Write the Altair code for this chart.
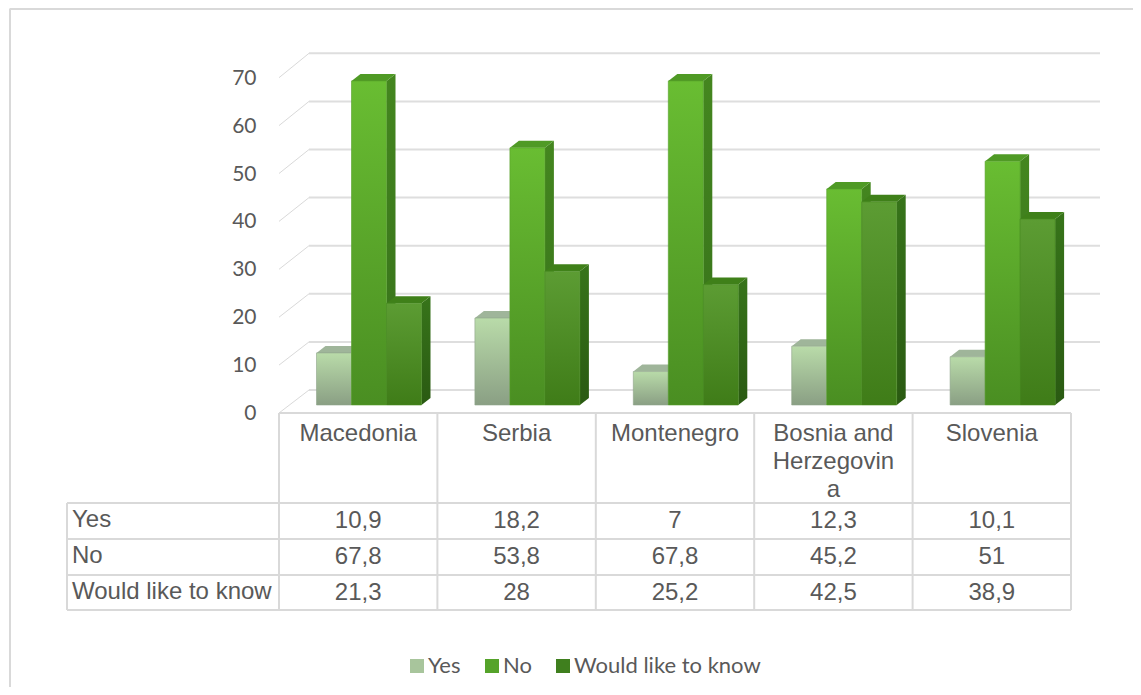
import altair as alt
import pandas as pd

categories = ["Macedonia", "Serbia", "Montenegro", "Bosnia and\nHerzegovin\na", "Slovenia"]
series = ["Yes", "No", "Would like to know"]
yes_values = [10.9, 18.2, 7, 12.3, 10.1]
no_values = [67.8, 53.8, 67.8, 45.2, 51]
know_values = [21.3, 28, 25.2, 42.5, 38.9]
tick_values = [0, 10, 20, 30, 40, 50, 60, 70]

# layout: column width in px, px per value unit, and where the plot sits on the page
COL = 158.4
X0 = 279.0
UNIT = 4.78
BASE = 405.0
W, H = 1125, 679
TEXT = "#595959"
LINE = "#d9d9d9"


def ux(px):
    return (px - X0) / COL


def vy(py):
    return (BASE - py) / UNIT


xs = alt.Scale(domain=[ux(8), ux(8 + W)], nice=False, zero=False)
ys = alt.Scale(domain=[vy(8 + H), vy(8)], nice=False, zero=False)
X = alt.X("x:Q", scale=xs, axis=None)
Y = alt.Y("y:Q", scale=ys, title=None, axis=alt.Axis(
    values=tick_values, orient="left", offset=-248, grid=False, domain=False, ticks=False,
    labelPadding=0, labelOffset=8, labelFont="Lato", labelFontSize=21, labelColor=TEXT,
    labelAlign="right", labelBaseline="middle", labelFlush=False, labelOverlap=False))


def grad(top, bottom):
    return {"gradient": "linear", "x1": 0, "y1": 0, "x2": 0, "y2": 1,
            "stops": [{"offset": 0, "color": top}, {"offset": 1, "color": bottom}]}


styles = {
    "Yes": dict(front=grad("#b9dba9", "#8a9f84"), side=grad("#98ad92", "#76896f"), top="#9fb59a", stroke="#8fa58a"),
    "No": dict(front=grad("#69bd32", "#4a8e22"), side=grad("#44861f", "#36701a"), top="#4f9a25", stroke="#569f2a"),
    "Would like to know": dict(front=grad("#5c9c33", "#3f7c18"), side=grad("#37741a", "#2a5a12"), top="#3f8019", stroke="#468a20"),
}
swatches = ["#a8c59c", "#55a32a", "#3f7f1e"]

BAR = 35.0 / COL
START = (316.5 - X0) / COL
DX = 9.0 / COL
DY = 7.0 / UNIT

layers = []

# frame of the picture
frame = pd.DataFrame({"x": [ux(10), ux(10)], "y": [vy(8.5), vy(8 + H)]})
layers.append(alt.Chart(frame).mark_line(color=LINE, strokeWidth=2).encode(x=X, y=Y))
frame_top = pd.DataFrame({"x": [ux(10)], "x2": [ux(8 + W)], "y": [vy(9)]})
layers.append(alt.Chart(frame_top).mark_rule(color=LINE, strokeWidth=2).encode(x=X, x2="x2:Q", y=Y))

# back wall grid and the slanted lines down to the front edge
walls = pd.DataFrame([
    {"x": ux(309), "x2": ux(1100), "y": vy(390 - 48.1 * i), "y2": vy(390 - 48.1 * i)}
    for i, _ in enumerate(tick_values)
])
layers.append(alt.Chart(walls).mark_rule(color="#dedede", strokeWidth=2).encode(x=X, x2="x2:Q", y=Y, y2="y2:Q"))
slants = pd.DataFrame([
    {"x": ux(279), "x2": ux(309), "y": vy(413 - 47.9 * i), "y2": vy(390 - 48.1 * i)}
    for i, _ in enumerate(tick_values)
])
layers.append(alt.Chart(slants).mark_rule(color=LINE, strokeWidth=1).encode(x=X, x2="x2:Q", y=Y, y2="y2:Q"))

# legend source, hidden behind the bar fronts
legend_rows = []
for s_i, (name, vals) in enumerate(zip(series, [yes_values, no_values, know_values])):
    for c_i, v in enumerate(vals):
        legend_rows.append({"x": c_i + START + (s_i + 0.5) * BAR, "y": v / 2, "series": name})
layers.append(
    alt.Chart(pd.DataFrame(legend_rows)).mark_square(size=60, filled=True, opacity=1).encode(
        x=X, y=Y,
        color=alt.Color("series:N", scale=alt.Scale(domain=series, range=swatches), legend=alt.Legend(
            orient="none", legendX=406 - 8, legendY=655 - 8, direction="horizontal", title=None,
            symbolType="square", symbolSize=196, labelFont="Lato", labelFontSize=22, labelColor=TEXT,
            columnPadding=20, gridAlign="none", labelOffset=0, symbolStrokeWidth=0, labelLimit=300)),
    )
)

# 3D bars, painted left to right within each series
for s_i, (name, vals) in enumerate(zip(series, [yes_values, no_values, know_values])):
    st = styles[name]
    front, side, top = [], [], []
    for c_i, v in enumerate(vals):
        x0 = c_i + START + s_i * BAR
        x1 = x0 + BAR
        front.append({"x": x0, "x2": x1, "y": v, "y2": 0})
        side += [
            {"id": c_i, "x": x1, "y": v, "y2": 0},
            {"id": c_i, "x": x1 + DX, "y": v + DY, "y2": DY},
        ]
        top += [
            {"id": c_i, "x": x0, "y": v, "y2": v},
            {"id": c_i, "x": x0 + DX, "y": v + DY, "y2": v},
            {"id": c_i, "x": x1, "y": v + DY, "y2": v},
            {"id": c_i, "x": x1 + DX, "y": v + DY, "y2": v + DY},
        ]
    layers.append(alt.Chart(pd.DataFrame(side)).mark_area(color=st["side"]).encode(x=X, y=Y, y2="y2:Q", detail="id:N"))
    layers.append(alt.Chart(pd.DataFrame(top)).mark_area(color=st["top"]).encode(x=X, y=Y, y2="y2:Q", detail="id:N"))
    layers.append(
        alt.Chart(pd.DataFrame(front)).mark_rect(color=st["front"], stroke=st["stroke"], strokeWidth=0.6).encode(
            x=X, x2="x2:Q", y=Y, y2="y2:Q")
    )

# data table grid
h_rules = pd.DataFrame(
    [{"x": ux(279), "x2": ux(1071), "y": vy(413)}]
    + [{"x": ux(67), "x2": ux(1071), "y": vy(py)} for py in (503, 539, 575, 610)]
)
layers.append(alt.Chart(h_rules).mark_rule(color=LINE, strokeWidth=2).encode(x=X, x2="x2:Q", y=Y))
v_rules = pd.DataFrame(
    [{"x": ux(67), "y": vy(503), "y2": vy(610)}]
    + [{"x": float(i), "y": vy(413), "y2": vy(610)} for i in range(len(categories) + 1)]
)
layers.append(alt.Chart(v_rules).mark_rule(color=LINE, strokeWidth=2).encode(x=X, y=Y, y2="y2:Q"))

font = dict(font="Liberation Sans", fontSize=24, color=TEXT)

# table text
cat_df = pd.DataFrame({"x": [i + 0.5 for i in range(len(categories))],
                       "y": [vy(434)] * len(categories), "t": categories})
layers.append(
    alt.Chart(cat_df).mark_text(align="center", baseline="middle", lineBreak="\n", lineHeight=28, **font).encode(
        x=X, y=Y, text="t:N")
)
row_y = [520.5, 556.5, 592.5]
for name, vals, py in zip(series, [yes_values, no_values, know_values], row_y):
    row = pd.DataFrame({"x": [i + 0.5 for i in range(len(vals))], "y": [vy(py)] * len(vals),
                        "t": [f"{v:g}".replace(".", ",") for v in vals]})
    layers.append(alt.Chart(row).mark_text(align="center", baseline="middle", **font).encode(x=X, y=Y, text="t:N"))
    head = pd.DataFrame({"x": [ux(72)], "y": [vy(py - 1)], "t": [name]})
    layers.append(alt.Chart(head).mark_text(align="left", baseline="middle", **font).encode(x=X, y=Y, text="t:N"))

chart = (
    alt.layer(*layers)
    .properties(width=W, height=H, padding=0, background="white",
                autosize=alt.AutoSizeParams(type="none"))
    .configure_view(stroke=None)
)
chart.save("out.html", embed_options={"renderer": "svg", "actions": False})
